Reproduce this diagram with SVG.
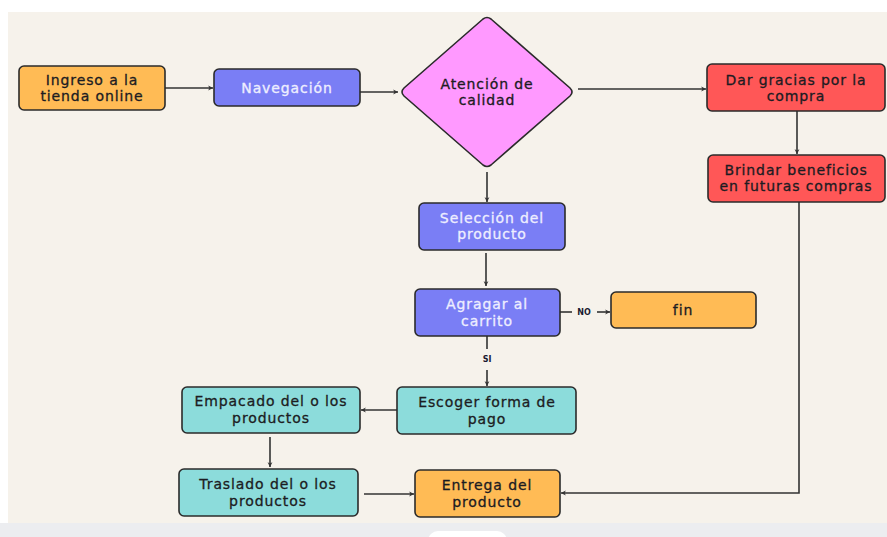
<svg xmlns="http://www.w3.org/2000/svg" width="887" height="537" viewBox="0 0 887 537">
<defs>
<style>
.bg{fill:#f6f2eb}
.box{stroke:#2b2b2b;stroke-width:1.6}
.o{fill:#ffbb55}
.b{fill:#7a7ef5}
.r{fill:#ff5757}
.t{fill:#8cdcdb}
.p{fill:#ff99ff}
text{font-family:"DejaVu Sans","Liberation Sans",sans-serif;font-size:14px;letter-spacing:0.9px;text-anchor:middle;fill:#1c1c22;stroke:#1c1c22;stroke-width:0.3px}
.lt{fill:#eeeeff;stroke:#eeeeff}
.lbl{font-size:8px;font-weight:bold;letter-spacing:0;stroke:none;fill:#1a1a30}
.c{fill:none;stroke:#333;stroke-width:1.6}
</style>
<marker id="ah" viewBox="0 0 10 10" refX="9" refY="5" markerWidth="6" markerHeight="6" orient="auto" markerUnits="userSpaceOnUse">
<path d="M1,1 L9,5 L1,9 L3,5 Z" fill="#333"/>
</marker>
</defs>
<rect x="0" y="0" width="887" height="537" fill="#ffffff"/>
<rect class="bg" x="8" y="12" width="879" height="511"/>
<rect x="0" y="523" width="887" height="14" fill="#ecedf0"/>
<rect x="428" y="531" width="79" height="20" rx="10" fill="#ffffff"/>

<g id="connectors">
<path class="c" d="M165,88 H213" marker-end="url(#ah)"/>
<path class="c" d="M360,92 H398" marker-end="url(#ah)"/>
<path class="c" d="M578,89 H706" marker-end="url(#ah)"/>
<path class="c" d="M797,111 V154" marker-end="url(#ah)"/>
<path class="c" d="M487,172 V202" marker-end="url(#ah)"/>
<path class="c" d="M486,253 V286" marker-end="url(#ah)"/>
<path class="c" d="M560,312 H572"/>
<text class="lbl" x="584" y="315">NO</text>
<path class="c" d="M597,312 H610" marker-end="url(#ah)"/>
<path class="c" d="M487,336 V349"/>
<text class="lbl" x="487" y="362">SI</text>
<path class="c" d="M487,370 V386" marker-end="url(#ah)"/>
<path class="c" d="M397,410 H361" marker-end="url(#ah)"/>
<path class="c" d="M270,437 V467" marker-end="url(#ah)"/>
<path class="c" d="M364,494 H414" marker-end="url(#ah)"/>
<path class="c" d="M799,202 V493 H561" marker-end="url(#ah)"/>
</g>

<g id="ingreso">
<rect class="box o" x="19" y="66" width="146" height="44" rx="5"/>
<text x="92" y="85">Ingreso a la</text>
<text x="92" y="101">tienda online</text>
</g>
<g id="navegacion">
<rect class="box b" x="214" y="69" width="146" height="37" rx="5"/>
<text class="lt" x="287" y="93">Navegación</text>
</g>
<g id="atencion">
<path class="box p" d="M483,19 Q487,16 491,19 L570,88 Q574,92 570,96 L491,165 Q487,168 483,165 L404,96 Q400,92 404,88 Z"/>
<text x="487" y="89">Atención de</text>
<text x="487" y="105">calidad</text>
</g>
<g id="dar-gracias">
<rect class="box r" x="707" y="64" width="178" height="47" rx="5"/>
<text x="796" y="85">Dar gracias por la</text>
<text x="796" y="101">compra</text>
</g>
<g id="brindar">
<rect class="box r" x="708" y="155" width="177" height="47" rx="5"/>
<text x="796" y="175">Brindar beneficios</text>
<text x="796" y="191">en futuras compras</text>
</g>
<g id="seleccion">
<rect class="box b" x="419" y="203" width="146" height="47" rx="5"/>
<text class="lt" x="492" y="223">Selección del</text>
<text class="lt" x="492" y="239">producto</text>
</g>
<g id="agragar">
<rect class="box b" x="415" y="289" width="145" height="47" rx="5"/>
<text class="lt" x="487" y="309">Agragar al</text>
<text class="lt" x="487" y="326">carrito</text>
</g>
<g id="fin">
<rect class="box o" x="611" y="292" width="145" height="36" rx="5"/>
<text x="683" y="315">fin</text>
</g>
<g id="escoger">
<rect class="box t" x="397" y="387" width="179" height="47" rx="5"/>
<text x="487" y="407">Escoger forma de</text>
<text x="487" y="424">pago</text>
</g>
<g id="empacado">
<rect class="box t" x="182" y="387" width="178" height="46" rx="5"/>
<text x="271" y="406">Empacado del o los</text>
<text x="271" y="423">productos</text>
</g>
<g id="traslado">
<rect class="box t" x="179" y="469" width="179" height="47" rx="5"/>
<text x="268" y="489">Traslado del o los</text>
<text x="268" y="506">productos</text>
</g>
<g id="entrega">
<rect class="box o" x="415" y="470" width="145" height="47" rx="5"/>
<text x="487" y="490">Entrega del</text>
<text x="487" y="507">producto</text>
</g>
</svg>
